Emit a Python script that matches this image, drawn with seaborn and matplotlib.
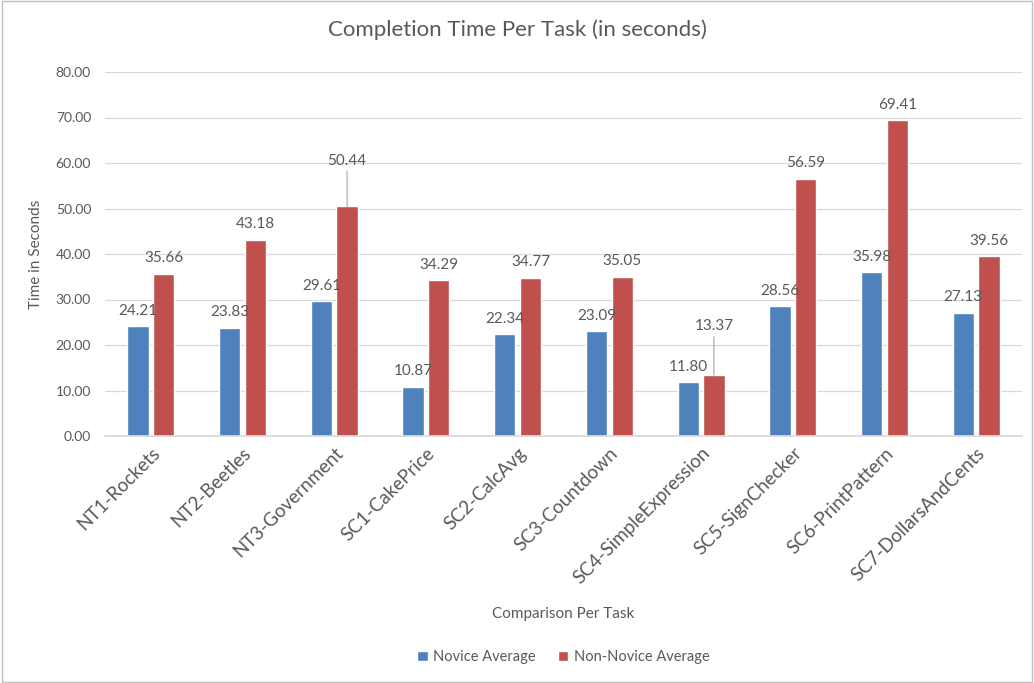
import matplotlib
matplotlib.use("Agg")
import matplotlib.pyplot as plt
import seaborn as sns
import pandas as pd
from matplotlib.ticker import FormatStrFormatter
from matplotlib.patches import Rectangle

tasks = ["NT1-Rockets", "NT2-Beetles", "NT3-Government", "SC1-CakePrice", "SC2-CalcAvg",
         "SC3-Countdown", "SC4-SimpleExpression", "SC5-SignChecker", "SC6-PrintPattern",
         "SC7-DollarsAndCents"]
novice = [24.21, 23.83, 29.61, 10.87, 22.34, 23.09, 11.80, 28.56, 35.98, 27.13]
non_novice = [35.66, 43.18, 50.44, 34.29, 34.77, 35.05, 13.37, 56.59, 69.41, 39.56]
series = ["Novice Average", "Non-Novice Average"]
colors = ["#4F81BD", "#C0504D"]

df = pd.DataFrame({
    "Task": tasks * 2,
    "Time": novice + non_novice,
    "Series": [series[0]] * len(tasks) + [series[1]] * len(tasks),
})

sns.set_theme(style="white")
plt.rcParams["font.family"] = ["Lato", "DejaVu Sans"]
txt = "#595959"

fig = plt.figure(figsize=(10.34, 6.83), dpi=100)
ax = fig.add_axes([105/1034, 1-436/683, (1022-105)/1034, (436-72)/683])
sns.barplot(data=df, x="Task", y="Time", hue="Series", palette=colors, order=tasks,
            hue_order=series, width=0.56, gap=0.17, ax=ax, legend=True, saturation=1)

ax.set_ylim(0, 80)
ax.set_yticks(range(0, 81, 10))
ax.yaxis.set_major_formatter(FormatStrFormatter("%.2f"))
ax.grid(axis="y", color="#D9D9D9", linewidth=0.9)
ax.set_axisbelow(True)
for s in ["top", "right", "left"]:
    ax.spines[s].set_visible(False)
ax.spines["bottom"].set_color("#D9D9D9")
ax.tick_params(axis="both", length=0, colors=txt, labelsize=10)
ax.tick_params(axis="y", pad=10)
ax.tick_params(axis="x", pad=6)
for lab in ax.get_xticklabels():
    lab.set_rotation(45)
    lab.set_ha("right")
    lab.set_rotation_mode("anchor")
    lab.set_fontsize(13.5)
ax.set_xlabel("Comparison Per Task", color=txt, fontsize=11)
ax.xaxis.set_label_coords(0.5, -(607-436)/(436-72))
ax.set_ylabel("Time in Seconds", color=txt, fontsize=11)
ax.yaxis.set_label_coords(-0.068, 0.5)
fig.text(0.5, 1-30/683, "Completion Time Per Task (in seconds)", ha="center", va="center",
         fontsize=16, color=txt)

# data labels
leader = {(1, 2): 28, (1, 6): 30}
for i, cont in enumerate(ax.containers[:2]):
    for j, bar in enumerate(cont):
        v = bar.get_height()
        x = bar.get_x() + bar.get_width() / 2
        off = leader.get((i, j), 6)
        ax.annotate(f"{v:.2f}", xy=(x, v), xytext=(0, off), textcoords="offset points",
                    ha="center", va="bottom", fontsize=11, color=txt,
                    arrowprops=dict(arrowstyle="-", color="#A6A6A6", lw=0.8,
                                    shrinkA=0, shrinkB=0) if (i, j) in leader else None)

leg = ax.legend(loc="center", bbox_to_anchor=(0.5, 1-(657-72)/(436-72)), ncol=2, frameon=False,
                fontsize=10.5, handlelength=0.7, handleheight=0.7, columnspacing=1.5,
                handletextpad=0.4)
for t in leg.get_texts():
    t.set_color(txt)

fig.patches.append(Rectangle((0.002, 0.002), 0.996, 0.996, transform=fig.transFigure,
                             fill=False, edgecolor="#BFBFBF", linewidth=1))
fig.savefig("out.png", dpi=100)
